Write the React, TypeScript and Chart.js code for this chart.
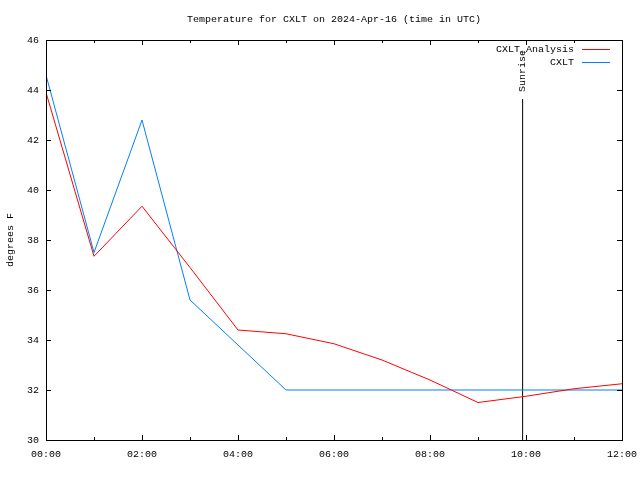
import React, { useEffect, useRef } from "react";
import { Chart, registerables } from "chart.js";

Chart.register(...registerables);

const hours = [0, 1, 2, 3, 4, 5, 6, 7, 8, 9, 10, 11, 12];
const analysisTemps = [43.9, 37.35, 39.35, 36.9, 34.4, 34.25, 33.85, 33.2, 32.4, 31.5, 31.75, 32.05, 32.25];
const observedTemps = [44.6, 37.5, 42.8, 35.6, 33.8, 32.0, 32.0, 32.0, 32.0, 32.0, 32.0, 32.0, 32.0];
const sunriseHour = 9.93;
const sunriseTop = 43.64;
const xTickLabels = ["00:00", "02:00", "04:00", "06:00", "08:00", "10:00", "12:00"];
const yTicks = [30, 32, 34, 36, 38, 40, 42, 44, 46];
const seriesNames = ["CXLT_Analysis", "CXLT"];
const seriesColors = ["#ff0000", "#0080ff"];
const titleText = "Temperature for CXLT on 2024-Apr-16 (time in UTC)";
const yAxisTitle = "degrees F";
const sunriseLabel = "Sunrise";

const FONT = "9px 'Liberation Mono', 'DejaVu Sans Mono', monospace";
const SX = 6 / 5.4;

function drawText(
  ctx: CanvasRenderingContext2D,
  text: string,
  x: number,
  y: number,
  align: CanvasTextAlign,
  rotate = false
) {
  ctx.save();
  ctx.font = FONT;
  ctx.fillStyle = "#000";
  ctx.textAlign = align;
  ctx.textBaseline = "middle";
  ctx.translate(x, y);
  if (rotate) ctx.rotate(-Math.PI / 2);
  ctx.scale(SX, 1);
  ctx.fillText(text, 0, 0);
  ctx.restore();
}

const framePlugin = {
  id: "gnuplotFrame",
  afterDatasetsDraw(chart: any) {
    const ctx: CanvasRenderingContext2D = chart.ctx;
    const { left, right, top, bottom } = chart.chartArea;
    const xs = chart.scales.x;
    const ys = chart.scales.y;
    ctx.save();
    ctx.strokeStyle = "#000";
    ctx.lineWidth = 1;
    // border
    ctx.strokeRect(Math.round(left) + 0.5, Math.round(top) + 0.5, Math.round(right - left), Math.round(bottom - top));
    // x ticks
    ctx.beginPath();
    for (let h = 0; h <= 12; h++) {
      const px = Math.round(xs.getPixelForValue(h)) + 0.5;
      const len = h % 2 === 0 ? 5 : 3;
      ctx.moveTo(px, bottom);
      ctx.lineTo(px, bottom - len);
      ctx.moveTo(px, top);
      ctx.lineTo(px, top + len);
    }
    for (const v of yTicks) {
      const py = Math.round(ys.getPixelForValue(v)) + 0.5;
      ctx.moveTo(left, py);
      ctx.lineTo(left + 5, py);
      ctx.moveTo(right, py);
      ctx.lineTo(right - 5, py);
    }
    ctx.stroke();
    ctx.restore();

    // tick labels
    xTickLabels.forEach((lab, i) => {
      const px = xs.getPixelForValue(i * 2);
      drawText(ctx, lab, px, 455, "center");
    });
    yTicks.forEach((v) => {
      const py = ys.getPixelForValue(v);
      drawText(ctx, String(v), 39, py + 0.5, "right");
    });

    // title and axis label
    drawText(ctx, titleText, (left + right) / 2, 20, "center");
    drawText(ctx, yAxisTitle, 11, (top + bottom) / 2, "center", true);

    // sunrise label
    const sx = xs.getPixelForValue(sunriseHour);
    drawText(ctx, sunriseLabel, Math.round(sx) - 0.5, 71, "center", true);

    // legend
    const rows = [49.5, 62.5];
    seriesNames.forEach((name, i) => {
      drawText(ctx, name, 574, rows[i] + 0.5, "right");
      ctx.save();
      ctx.strokeStyle = seriesColors[i];
      ctx.lineWidth = 1;
      ctx.beginPath();
      ctx.moveTo(582, rows[i]);
      ctx.lineTo(610, rows[i]);
      ctx.stroke();
      ctx.restore();
    });
  },
};

export default function App() {
  const ref = useRef<HTMLCanvasElement | null>(null);

  useEffect(() => {
    if (!ref.current) return;
    const chart = new Chart(ref.current, {
      type: "line",
      data: {
        datasets: [
          {
            label: seriesNames[0],
            data: hours.map((h, i) => ({ x: h, y: analysisTemps[i] })),
            borderColor: seriesColors[0],
            borderWidth: 1,
            pointRadius: 0,
            tension: 0,
            fill: false,
          },
          {
            label: seriesNames[1],
            data: hours.map((h, i) => ({ x: h, y: observedTemps[i] })),
            borderColor: seriesColors[1],
            borderWidth: 1,
            pointRadius: 0,
            tension: 0,
            fill: false,
          },
          {
            label: sunriseLabel,
            data: [
              { x: sunriseHour, y: 30 },
              { x: sunriseHour, y: sunriseTop },
            ],
            borderColor: "#000",
            borderWidth: 1,
            pointRadius: 0,
            tension: 0,
            fill: false,
          },
        ],
      },
      options: {
        animation: false,
        responsive: false,
        devicePixelRatio: 1,
        layout: { padding: { left: 46, right: 18, top: 40, bottom: 40 } },
        plugins: {
          legend: { display: false },
          tooltip: { enabled: false },
          title: { display: false },
        },
        scales: {
          x: { type: "linear", min: 0, max: 12, display: false },
          y: { type: "linear", min: 30, max: 46, display: false },
        },
      },
      plugins: [framePlugin],
    });
    return () => chart.destroy();
  }, []);

  return (
    <div style={{ position: "fixed", left: 0, top: 0, width: 640, height: 480, background: "#fff" }}>
      <canvas ref={ref} width={640} height={480} style={{ display: "block", width: 640, height: 480 }} />
    </div>
  );
}
